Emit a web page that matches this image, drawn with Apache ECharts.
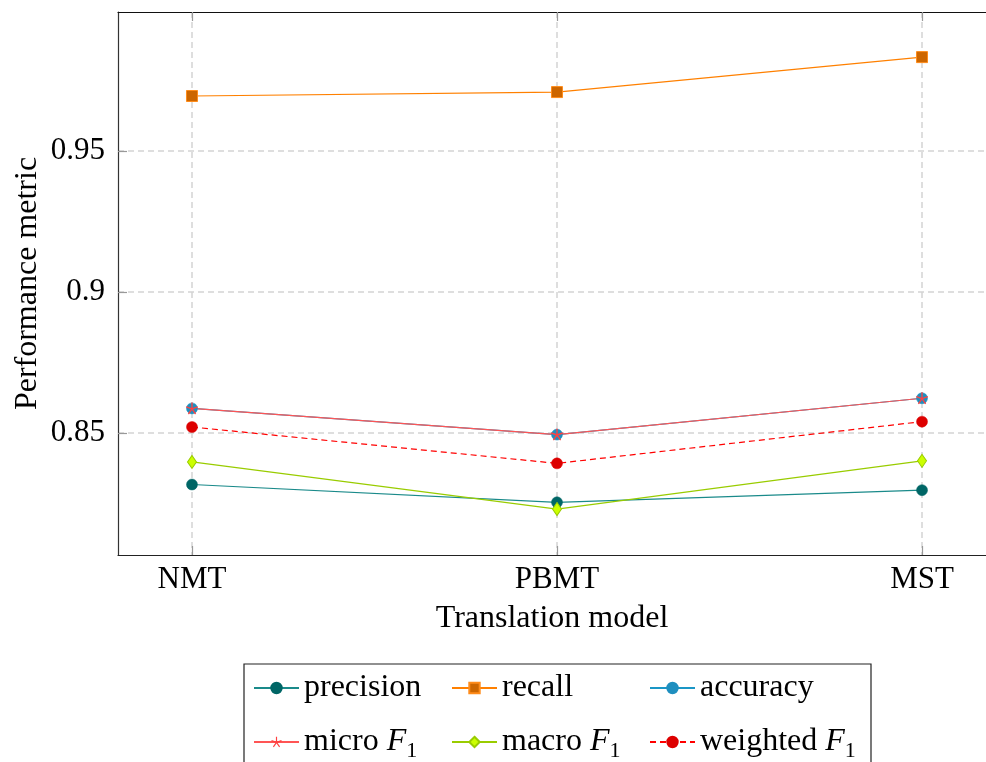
<!DOCTYPE html>
<html>
<head>
<meta charset="utf-8">
<script src="https://cdn.jsdelivr.net/npm/echarts@6/dist/echarts.min.js"></script>
<style>html,body{margin:0;padding:0;background:#fff}#c{width:986px;height:762px}</style>
</head>
<body>
<div id="c"></div>
<script>
const categories = ['NMT', 'PBMT', 'MST'];
const yTicks = [0.85, 0.9, 0.95];
const precision = [0.8317, 0.8254, 0.8297];
const recall = [0.9695, 0.9709, 0.9833];
const accuracy = [0.8587, 0.8494, 0.8623];
const microF1 = [0.8587, 0.8494, 0.8623];
const macroF1 = [0.8397, 0.8230, 0.8401];
const weightedF1 = [0.8521, 0.8392, 0.8540];

const FONT = 'Liberation Serif';
const idx = categories.map((c, i) => i);
const pts = arr => arr.map((v, i) => [i, v]);

const starPath = 'path://M0.11,0L0.11,-1L-0.11,-1L-0.11,0Z' +
  'M0.034,0.105L0.985,-0.204L0.917,-0.414L-0.034,-0.105Z' +
  'M0.034,-0.105L-0.917,-0.414L-0.985,-0.204L-0.034,0.105Z' +
  'M-0.089,-0.065L-0.677,0.744L-0.499,0.874L0.089,0.065Z' +
  'M-0.089,0.065L0.499,0.874L0.677,0.744L0.089,-0.065Z';

const chart = echarts.init(document.getElementById('c'), null, {renderer: 'canvas'});

const rich = {
  it: {fontFamily: FONT, fontStyle: 'italic', fontSize: 32, color: '#000', lineHeight: 40},
  sub: {fontFamily: FONT, fontSize: 22, color: '#000', verticalAlign: 'bottom', lineHeight: 24}
};

function fmtName(n) {
  if (n.endsWith(' F1')) return n.slice(0, -2) + '{it|F}{sub|1}';
  return n;
}

const X_MIN = -0.2027, X_MAX = 2.1753;

const option = {
  animation: false,
  backgroundColor: '#fff',
  grid: {left: 118, top: 12, right: 0, bottom: 207},
  xAxis: [{
    type: 'value',
    min: X_MIN, max: X_MAX,
    name: 'Translation model',
    nameLocation: 'middle',
    nameGap: 48,
    nameTextStyle: {fontFamily: FONT, fontSize: 32, color: '#000'},
    axisLine: {show: true, onZero: false, lineStyle: {color: '#222', width: 1.2}},
    axisTick: {show: true, inside: true, length: 9, customValues: idx, lineStyle: {color: '#999', width: 1.2}},
    axisLabel: {show: true, customValues: idx, margin: 9, fontFamily: FONT, fontSize: 31, color: '#000',
      formatter: v => categories[Math.round(v)]},
    splitLine: {show: true, lineStyle: {color: '#d4d4d4', width: 1.5, type: [6, 4]}}
  }, {
    type: 'value',
    position: 'top',
    min: X_MIN, max: X_MAX,
    axisLine: {show: true, onZero: false, lineStyle: {color: '#111', width: 1.2}},
    axisTick: {show: true, inside: true, length: 9, customValues: idx, lineStyle: {color: '#999', width: 1.2}},
    axisLabel: {show: false},
    splitLine: {show: false}
  }],
  yAxis: {
    type: 'value',
    min: 0.8067, max: 0.9993,
    name: 'Performance metric',
    nameLocation: 'middle',
    nameGap: 74,
    nameMoveOverlap: false,
    nameTextStyle: {fontFamily: FONT, fontSize: 32, color: '#000'},
    axisLine: {show: true, onZero: false, lineStyle: {color: '#333', width: 1.2}},
    axisTick: {show: true, inside: true, length: 9, customValues: yTicks, lineStyle: {color: '#999', width: 1.2}},
    axisLabel: {show: true, customValues: yTicks, margin: 13, fontFamily: FONT, fontSize: 31, color: '#000'},
    splitLine: {show: true, lineStyle: {color: '#d4d4d4', width: 1.5, type: [6, 4]}}
  },
  legend: {
    left: 244, top: 664,
    width: 620,
    orient: 'horizontal',
    padding: [4, 11, 10, 9],
    itemGap: 14,
    itemWidth: 45,
    itemHeight: 13,
    borderColor: '#222',
    borderWidth: 1.2,
    borderRadius: 0,
    backgroundColor: '#fff',
    selectedMode: false,
    formatter: fmtName,
    textStyle: {fontFamily: FONT, fontSize: 32, color: '#000', lineHeight: 40, width: 133, rich: rich},
    data: [
      {name: 'precision'},
      {name: 'recall'},
      {name: 'accuracy', textStyle: {width: 160}},
      {name: 'micro F1'},
      {name: 'macro F1'},
      {name: 'weighted F1', textStyle: {width: 160}}
    ]
  },
  series: [
    {
      name: 'precision', type: 'line', data: pts(precision),
      symbol: 'circle', symbolSize: 11,
      lineStyle: {color: '#1a8a8a', width: 1.2},
      itemStyle: {color: '#006666', borderColor: '#006666', borderWidth: 0.5}
    },
    {
      name: 'recall', type: 'line', data: pts(recall),
      symbol: 'rect', symbolSize: 11,
      lineStyle: {color: '#ff8000', width: 1.2},
      itemStyle: {color: '#cc6600', borderColor: '#ff8c1a', borderWidth: 1}
    },
    {
      name: 'accuracy', type: 'line', data: pts(accuracy),
      symbol: 'circle', symbolSize: 11,
      lineStyle: {color: '#1a96c6', width: 1.2},
      itemStyle: {color: '#1f8fbf', borderColor: '#1f8fbf', borderWidth: 0.5}
    },
    {
      name: 'micro F1', type: 'line', data: pts(microF1),
      symbol: starPath, symbolSize: 12,
      lineStyle: {color: '#ff5555', width: 1.2},
      itemStyle: {color: '#ff4040'}
    },
    {
      name: 'macro F1', type: 'line', data: pts(macroF1),
      symbol: 'diamond', symbolSize: [9, 13],
      lineStyle: {color: '#99cc00', width: 1.2},
      itemStyle: {color: '#ccff00', borderColor: '#99cc00', borderWidth: 1}
    },
    {
      name: 'weighted F1', type: 'line', data: pts(weightedF1),
      symbol: 'circle', symbolSize: 11,
      lineStyle: {color: '#ff0000', width: 1.2, type: [6, 4]},
      itemStyle: {color: '#dd0000', borderColor: '#dd0000', borderWidth: 0.5}
    }
  ]
};
chart.setOption(option);
</script>
</body>
</html>
